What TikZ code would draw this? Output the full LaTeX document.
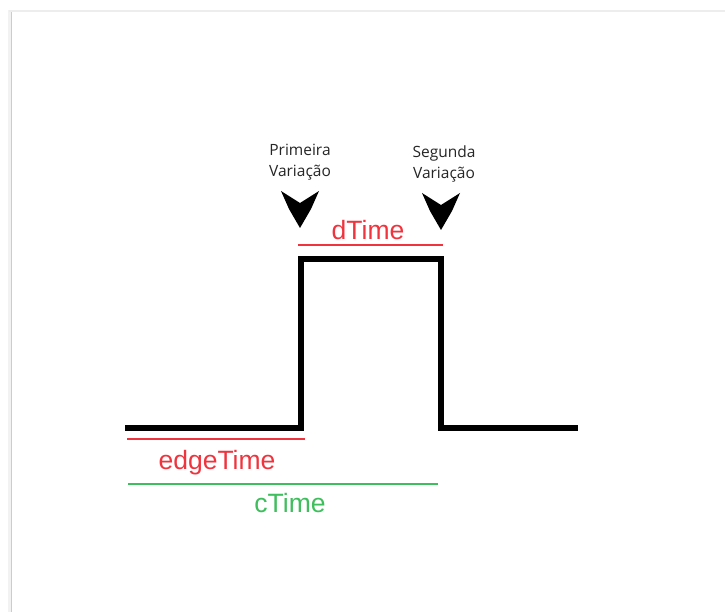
\documentclass[tikz,border=0pt]{standalone}
\usepackage{fontspec}
\setmainfont{Liberation Sans}
\newfontfamily\notefont{Open Sans}
\definecolor{sigred}{RGB}{240,52,62}
\definecolor{siggreen}{RGB}{62,190,92}
\tikzset{
  signal/.style={line width=5.5pt, black, line join=miter},
  redbar/.style={line width=1.1pt, sigred},
  greenbar/.style={line width=1.1pt, siggreen},
  note/.style={font=\notefont\fontsize{15.5}{21}\selectfont, text=black!85, align=center, inner sep=0pt},
  redlabel/.style={font=\fontsize{26.5}{30}\selectfont, text=sigred, inner sep=0pt, anchor=base},
  greenlabel/.style={font=\fontsize{26.5}{30}\selectfont, text=siggreen, inner sep=0pt, anchor=base},
  marker/.style={fill=black, draw=none}
}
\begin{document}
\begin{tikzpicture}[x=1pt,y=-1pt]
  \useasboundingbox (0,0) rectangle (725,612);
  \fill[white] (0,0) rectangle (725,612);
  % sheet edge with a faint shadow
  \draw[black!5, line width=4pt] (10,612) -- (10,10.5);
  \draw[black!7, line width=2pt] (9,11) -- (725,11);
  \draw[black!20, line width=1.6pt] (11.5,612) -- (11.5,12);

  % pulse waveform
  \coordinate (s0) at (125,428);
  \coordinate (s1) at (301,428);
  \coordinate (s2) at (301,259);
  \coordinate (s3) at (441,259);
  \coordinate (s4) at (441,428);
  \coordinate (s5) at (578,428);
  \draw[signal] (s0) -- (s1) -- (s2) -- (s3) -- (s4) -- (s5);

  % transition markers
  \node[note] (first) at (300,162) {Primeira\\Variação};
  \node[note] (second) at (444,164) {Segunda\\Variação};
  \fill[marker] (281,191) -- (289,209) -- (300,228) -- (311,209) -- (319,191) -- (300,203) -- cycle;
  \fill[marker] (422,193) -- (430,211) -- (441,230) -- (452,211) -- (460,193) -- (441,205) -- cycle;

  % dTime
  \coordinate (d0) at (298,245);
  \coordinate (d1) at (443,245);
  \draw[redbar] (d0) -- (d1);
  \node[redlabel] (dtime) at (368,240) {dTime};

  % edgeTime
  \coordinate (e0) at (127,439);
  \coordinate (e1) at (305,439);
  \draw[redbar] (e0) -- (e1);
  \node[redlabel] (edgetime) at (217,469) {edgeTime};

  % cTime
  \coordinate (c0) at (128,484);
  \coordinate (c1) at (438,484);
  \draw[greenbar] (c0) -- (c1);
  \node[greenlabel] (ctime) at (290,512) {cTime};
\end{tikzpicture}
\end{document}
